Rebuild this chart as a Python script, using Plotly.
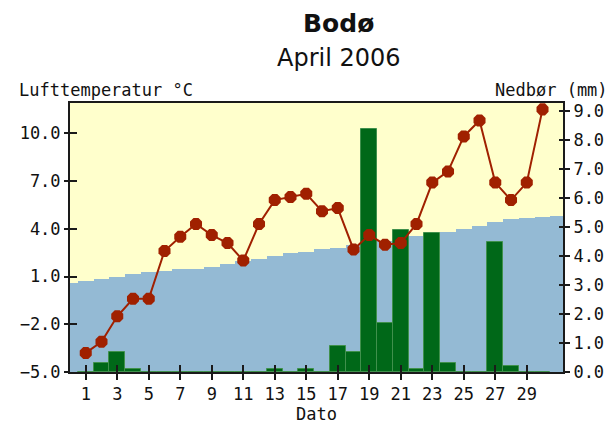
import plotly.graph_objects as go

# ---- data ----
days = list(range(1, 31))
temperature = [-3.8, -3.1, -1.5, -0.4, -0.4, 2.6, 3.5, 4.3, 3.6, 3.1,
               2.0, 4.3, 5.8, 6.0, 6.2, 5.1, 5.3, 2.7, 3.6, 3.0,
               3.1, 4.3, 6.9, 7.6, 9.8, 10.8, 6.9, 5.8, 6.9, 11.5]
precip = [0.0, 0.3, 0.7, 0.1, 0.0, 0.0, 0.0, 0.0, 0.0, 0.0,
          0.0, 0.0, 0.1, 0.0, 0.1, 0.0, 0.9, 0.7, 8.4, 1.7,
          4.9, 0.1, 4.8, 0.3, 0.0, 0.0, 4.5, 0.2, 0.0, 0.0]
normal_days = list(range(0, 32))
normal_temp = [0.6, 0.7, 0.85, 1.0, 1.15, 1.3, 1.35, 1.45, 1.5, 1.6,
               1.8, 1.95, 2.1, 2.3, 2.45, 2.55, 2.7, 2.8, 2.95, 3.1,
               3.25, 3.4, 3.55, 3.7, 3.8, 4.0, 4.2, 4.4, 4.6, 4.7,
               4.75, 4.8]
temp_ticks = [-5.0, -2.0, 1.0, 4.0, 7.0, 10.0]
precip_ticks = [0.0, 1.0, 2.0, 3.0, 4.0, 5.0, 6.0, 7.0, 8.0, 9.0]
x_ticks = list(range(1, 30, 2))

T_MIN, T_MAX = -5.0, 11.9
P_MIN, P_MAX = 0.0, 9.28
X_RANGE = [0.0, 31.3]

FONT = "DejaVu Sans Mono"
AX = "#1a1a1a"

fig = go.Figure()

# normal temperature band (to bottom of axis)
fig.add_trace(go.Bar(
    x=normal_days, y=[v - T_MIN for v in normal_temp], base=T_MIN,
    width=1.0, marker=dict(color="#94BAD4", line=dict(width=0)),
    xaxis="x", yaxis="y", hoverinfo="skip", showlegend=False))

# precipitation
fig.add_trace(go.Bar(
    x=days, y=precip, width=1.0,
    marker=dict(color="#006818", line=dict(color="#40904C", width=1)),
    xaxis="x", yaxis="y2", showlegend=False))

# temperature
fig.add_trace(go.Scatter(
    x=days, y=temperature, mode="lines+markers",
    line=dict(color="#A02000", width=2),
    marker=dict(symbol="octagon", size=13, color="#A02000"),
    xaxis="x2", yaxis="y3", showlegend=False))

# helper trace for right inside ticks
fig.add_trace(go.Scatter(
    x=[None], y=[None], xaxis="x", yaxis="y4",
    showlegend=False, hoverinfo="skip"))

tickfont = dict(family=FONT, size=17, color="#111")

fig.update_layout(
    width=613, height=425,
    margin=dict(l=70, r=50, t=103, b=53, autoexpand=False),
    paper_bgcolor="white", plot_bgcolor="#FFFFCC",
    barmode="overlay", bargap=0,
    xaxis=dict(range=X_RANGE, tickvals=x_ticks, ticks="outside",
               ticklen=6, tickwidth=2, tickcolor=AX,
               showline=True, linecolor=AX, linewidth=2, mirror=True,
               showgrid=False, zeroline=False, tickfont=tickfont),
    xaxis2=dict(range=X_RANGE, overlaying="x", tickvals=x_ticks,
                ticks="inside", ticklen=7, tickwidth=2, tickcolor=AX,
                showticklabels=False, showline=False, showgrid=False,
                zeroline=False, anchor="y3"),
    yaxis=dict(range=[T_MIN, T_MAX], tickvals=temp_ticks, tickformat=".1f",
               ticks="outside", ticklen=4, tickwidth=2, tickcolor=AX,
               showline=True, linecolor=AX, linewidth=2, mirror=True,
               showgrid=False, zeroline=False, tickfont=tickfont),
    yaxis2=dict(range=[P_MIN, P_MAX], tickvals=precip_ticks,
                tickformat=".1f", overlaying="y", side="right",
                ticks="outside", ticklen=6, tickwidth=2, tickcolor=AX,
                showline=False, showgrid=False, zeroline=False,
                tickfont=tickfont),
    yaxis3=dict(range=[T_MIN, T_MAX], tickvals=temp_ticks, overlaying="y",
                side="left", ticks="inside", ticklen=7, tickwidth=2,
                tickcolor=AX, showticklabels=False, showline=False,
                showgrid=False, zeroline=False, anchor="x2"),
    yaxis4=dict(range=[P_MIN, P_MAX], tickvals=precip_ticks,
                overlaying="y", side="right", ticks="inside", ticklen=4,
                tickwidth=2, tickcolor=AX, showticklabels=False,
                showline=False, showgrid=False, zeroline=False),
    annotations=[
        dict(text="<b>Bodø</b>", xref="paper", yref="paper",
             x=0.544, y=1.294, yanchor="middle", showarrow=False,
             font=dict(family="DejaVu Sans", size=25, color="#111")),
        dict(text="April 2006", xref="paper", yref="paper",
             x=0.546, y=1.167, yanchor="middle", showarrow=False,
             font=dict(family="DejaVu Sans", size=24, color="#111")),
        dict(text="Lufttemperatur °C", xref="paper", yref="paper",
             x=-0.107, y=1.05, xanchor="left", yanchor="middle",
             showarrow=False,
             font=dict(family=FONT, size=17, color="#111")),
        dict(text="Nedbør (mm)", xref="paper", yref="paper",
             x=1.095, y=1.05, xanchor="right", yanchor="middle",
             showarrow=False,
             font=dict(family=FONT, size=17, color="#111")),
        dict(text="Dato", xref="paper", yref="paper",
             x=0.5, y=-0.156, yanchor="middle", showarrow=False,
             font=dict(family=FONT, size=17, color="#111")),
    ],
)

fig.write_html("out.html",
               config={"displayModeBar": False},
               post_script="document.body.style.margin='0';"
                           "document.body.style.padding='0';")
